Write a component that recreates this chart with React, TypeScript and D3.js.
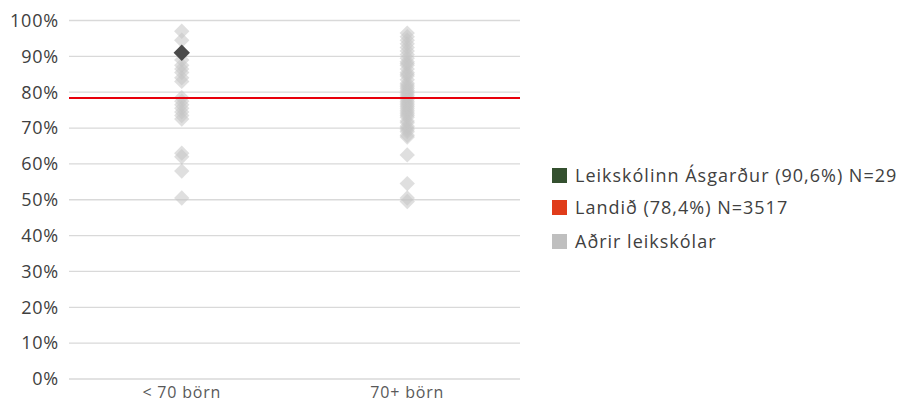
import React from "react";
import * as d3 from "d3";

const categories = ["< 70 börn", "70+ börn"];
const yTicks = [0, 10, 20, 30, 40, 50, 60, 70, 80, 90, 100];

const smallSchools = [97, 94.5, 89, 87.5, 86.5, 85.5, 84, 83, 78.5, 77.5, 76.5, 75.5, 74.5, 73.5, 72.5, 63, 62, 58, 50.5];
const largeSchools = [
  96.5, 95.5, 94.5, 93.5, 92.5, 91.5, 90.5, 89.5, 88.5, 88, 87.5, 86.5, 85.5, 85, 84.5, 83.5, 82.5, 82,
  81.5, 81, 80.5, 80, 79.5, 79, 78.5, 78, 77.5, 77, 76.5, 76, 75.5, 75, 74.5, 74, 73.5, 73, 72, 71.5,
  70.5, 70, 69.5, 69, 68, 67.5, 62.5, 54.5, 50.5, 49.5,
];
const highlightCategory = "< 70 börn";
const highlightValue = 91;
const nationalValue = 78.4;

const legendLabels = [
  "Leikskólinn Ásgarður (90,6%) N=29",
  "Landið (78,4%) N=3517",
  "Aðrir leikskólar",
];
const legendColors = ["#34502f", "#e03c1a", "#bfbfbf"];

const W = 900;
const H = 403;
const left = 69;
const right = 520;
const top = 20.5;
const bottom = 379;
const FONT = "'Open Sans', Lato, sans-serif";

export default function App() {
  const x = d3.scaleBand<string>().domain(categories).range([left, right]);
  const y = d3.scaleLinear().domain([0, 100]).range([bottom, top]);
  const diamond = d3.symbol().type(d3.symbolDiamond2).size(150)() as string;
  const bigDiamond = d3.symbol().type(d3.symbolDiamond2).size(170)() as string;
  const cx = (c: string) => (x(c) as number) + x.bandwidth() / 2;

  const others = [
    ...smallSchools.map((v) => ({ c: categories[0], v })),
    ...largeSchools.map((v) => ({ c: categories[1], v })),
  ];

  return (
    <svg width={W} height={H} style={{ position: "absolute", left: 0, top: 0 }} fontFamily={FONT}>
      <rect width={W} height={H} fill="#fff" />
      {yTicks.map((t) => (
        <g key={t}>
          <line x1={left} x2={right} y1={y(t)} y2={y(t)} stroke="#d9d9d9" strokeWidth={1.3} />
          <text x={59} y={y(t)} dy="0.35em" textAnchor="end" fontSize={18} letterSpacing={0.8} fill="#404040">
            {t}%
          </text>
        </g>
      ))}
      {categories.map((c) => (
        <text key={c} x={cx(c)} y={398} textAnchor="middle" fontSize={16} letterSpacing={0.8} fill="#595959">
          {c}
        </text>
      ))}
      {others.map((d, i) => (
        <path
          key={i}
          d={diamond}
          transform={`translate(${cx(d.c)},${y(d.v)})`}
          fill="#c4c4c4"
          fillOpacity={0.55}
        />
      ))}
      <line
        x1={left}
        x2={right}
        y1={y(nationalValue)}
        y2={y(nationalValue)}
        stroke="#e8000b"
        strokeWidth={2}
      />
      <path d={bigDiamond} transform={`translate(${cx(highlightCategory)},${y(highlightValue)})`} fill="#4a4a4a" />
      {legendLabels.map((l, i) => {
        const yc = [175.5, 207.5, 241.5][i];
        return (
          <g key={l}>
            <rect x={552} y={yc - 7.5} width={15} height={15} fill={legendColors[i]} />
            <text x={575} y={yc} dy="0.35em" fontSize={18} letterSpacing={1} fill="#404040">
              {l}
            </text>
          </g>
        );
      })}
    </svg>
  );
}
